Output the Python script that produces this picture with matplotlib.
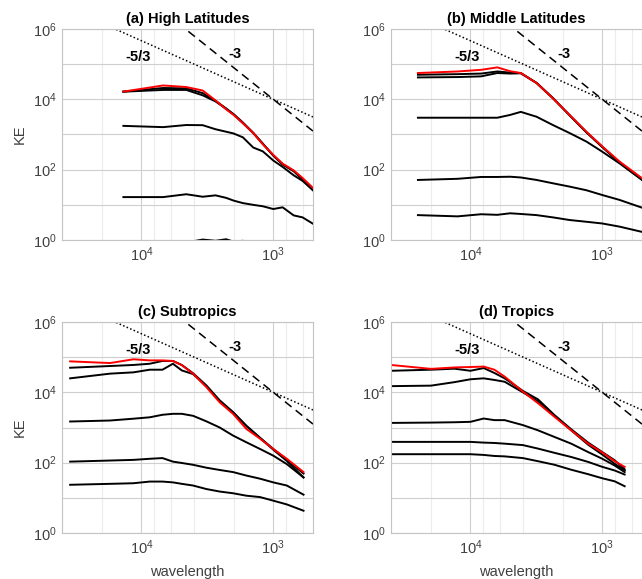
import numpy as np
import matplotlib.pyplot as plt
from matplotlib.ticker import FixedLocator, NullFormatter, LogLocator

plt.rcParams['font.family'] = ['Liberation Sans', 'DejaVu Sans']

titles = ['(a) High Latitudes', '(b) Middle Latitudes', '(c) Subtropics', '(d) Tropics']

# (a) high latitudes
wl_a = [13700, 6850, 4570, 3430, 2740, 2280, 2000, 1700, 1420, 1200, 1000, 850, 700, 600, 500]
red_a = [1.66e4, 2.48e4, 2.24e4, 1.78e4, 9.3e3, 5.2e3, 3.6e3, 2.1e3, 1.1e3, 525, 263, 148, 95, 58, 30]
blk_a = [
    [1.66e4, 2.1e4, 2.05e4, 1.5e4, 9.1e3, 5.5e3, 3.8e3, 2.2e3, 1.12e3, 550, 250, 140, 90, 52, 26],
    [1.65e4, 1.85e4, 1.85e4, 1.3e4, 8.7e3, 5.4e3, 3.7e3, 2.1e3, 1.1e3, 540, 255, 145, 92, 55, 29],
    [1.76e3, 1.62e3, 1.86e3, 1.84e3, 1.41e3, 1.2e3, 1.07e3, 830, 427, 331, 182, 120, 69, 48, 26],
    [16.6, 16.6, 20, 17, 18.6, 15.8, 13.2, 11.2, 10, 9.1, 7.6, 8.5, 5.0, 4.4, 2.9],
    [0.5, 0.6, 0.85, 1.03, 0.95, 1.05, 0.9, 0.95, 0.8, 0.65, 0.55, 0.5, 0.4, 0.3, 0.2],
]

# (b) middle latitudes
wl_b = [25000, 12500, 8300, 6250, 5000, 4150, 3150, 2370, 1770, 1320, 1000, 740, 500]
red_b = [5.6e4, 6.2e4, 6.9e4, 8.1e4, 6.3e4, 5.6e4, 2.9e4, 1.07e4, 3.6e3, 1.2e3, 457, 170, 57]
blk_b = [
    [5.0e4, 5.2e4, 5.4e4, 6.2e4, 5.75e4, 5.6e4, 2.95e4, 1.1e4, 3.5e3, 1.15e3, 437, 158, 52],
    [4.2e4, 4.3e4, 4.5e4, 5.6e4, 5.4e4, 5.5e4, 2.9e4, 1.07e4, 3.55e3, 1.17e3, 447, 162, 55],
    [3.0e3, 3.0e3, 3.0e3, 3.0e3, 3.6e3, 4.4e3, 3.2e3, 1.86e3, 1.1e3, 630, 324, 151, 51],
    [51, 55, 62, 62, 63, 60, 51, 41, 33, 26, 19, 13.8, 8.3],
    [5.1, 4.7, 5.4, 5.2, 5.75, 5.5, 5.1, 4.4, 3.7, 3.3, 2.95, 2.4, 1.7],
]

# (c) subtropics
wl_c = [34700, 17300, 11500, 8650, 6920, 5770, 4940, 4060, 3220, 2550, 2020, 1600, 1260, 1000, 790, 590]
red_c = [7.6e4, 6.8e4, 8.7e4, 8.1e4, 8.1e4, 7.8e4, 5.9e4, 3.4e4, 1.41e4, 5.2e3, 2.45e3, 910, 480, 245, 129, 54]
blk_c = [
    [5.0e4, 5.6e4, 6.0e4, 6.5e4, 7.8e4, 7.8e4, 6.0e4, 3.5e4, 1.58e4, 5.9e3, 2.75e3, 1.12e3, 513, 245, 120, 49],
    [2.5e4, 3.4e4, 3.7e4, 4.4e4, 4.4e4, 6.5e4, 4.2e4, 3.3e4, 1.5e4, 5.75e3, 2.7e3, 1.1e3, 500, 234, 112, 38],
    [1.48e3, 1.58e3, 1.78e3, 1.95e3, 2.3e3, 2.45e3, 2.45e3, 2.15e3, 1.5e3, 1.0e3, 590, 380, 245, 158, 91, 38],
    [107, 115, 120, 129, 135, 107, 98, 87, 72, 62, 54, 43, 35, 27.5, 22.4, 12.3],
    [23.5, 25, 26, 29, 29, 27.5, 25, 22.4, 17.8, 15.1, 13.5, 11.5, 10.5, 8.3, 6.5, 4.3],
]

# (d) tropics
wl_d = [40000, 19900, 13200, 10000, 7930, 6580, 5500, 4000, 3070, 2300, 1720, 1280, 1000, 806, 677]
red_d = [6.0e4, 4.65e4, 5.1e4, 5.25e4, 5.4e4, 4.4e4, 2.8e4, 1.05e4, 4.9e3, 2.0e3, 830, 347, 195, 110, 76]
blk_d = [
    [4.1e4, 4.4e4, 4.7e4, 4.1e4, 4.9e4, 3.55e4, 2.5e4, 1.1e4, 6.3e3, 2.24e3, 890, 372, 200, 117, 65],
    [1.5e4, 1.55e4, 1.95e4, 2.35e4, 2.5e4, 2.25e4, 2.0e4, 1.0e4, 5.5e3, 2.15e3, 830, 324, 170, 93, 60],
    [1.35e3, 1.38e3, 1.41e3, 1.45e3, 1.8e3, 1.62e3, 1.62e3, 1.17e3, 830, 537, 347, 200, 129, 83, 54],
    [390, 390, 390, 390, 372, 363, 347, 316, 251, 190, 145, 105, 76, 60, 46],
    [174, 174, 174, 174, 166, 155, 151, 135, 110, 87, 63, 47, 36, 29.5, 21.4],
]

panels = [(wl_a, red_a, blk_a), (wl_b, red_b, blk_b), (wl_c, red_c, blk_c), (wl_d, red_d, blk_d)]

# reference slopes, both pass through (1000, 1e4)
ref_wl = np.array([500.0, 40000.0])
ref_53 = 1e4 * (ref_wl / 1000) ** (5 / 3)
ref_3 = 1e4 * (ref_wl / 1000) ** 3

W, H = 642, 579
fig = plt.figure(figsize=(W / 100, H / 100), dpi=100)
boxes = [(62, 29), (391, 29), (62, 322), (391, 322)]
aw, ah = 251, 211

for i, (wl, red, blk) in enumerate(panels):
    x0, y0 = boxes[i]
    ax = fig.add_axes([x0 / W, 1 - (y0 + ah) / H, aw / W, ah / H])
    ax.set_xscale('log')
    ax.set_yscale('log')

    for k in blk:
        ax.plot(wl, k, color='black', lw=1.4)
    ax.plot(wl, red, color='red', lw=1.4)

    ax.plot(ref_wl, ref_53, color='black', lw=1.1, ls=(0, (1, 1.5)))
    ax.plot(ref_wl, ref_3, color='black', lw=1.1, ls=(0, (5.5, 3.5)))
    ax.text(1.06e4, 1.65e5, '-5/3', fontsize=10.5, fontweight='bold', ha='center', va='center')
    ax.text(1950, 1.95e5, '-3', fontsize=10.5, fontweight='bold', ha='center', va='center')

    ax.set_xlim(40000, 500)
    ax.set_ylim(1, 1e6)

    ax.xaxis.set_major_locator(FixedLocator([1e3, 1e4]))
    ax.xaxis.set_minor_locator(LogLocator(base=10, subs=[2, 4, 6, 8]))
    ax.xaxis.set_minor_formatter(NullFormatter())
    ax.yaxis.set_major_locator(FixedLocator([1, 1e2, 1e4, 1e6]))
    ax.yaxis.set_minor_locator(FixedLocator([10, 1e3, 1e5]))
    ax.yaxis.set_minor_formatter(NullFormatter())

    ax.grid(True, which='major', color='#cfcfcf', lw=0.8)
    ax.grid(True, which='minor', axis='x', color='#ececec', lw=0.8)
    ax.grid(True, which='minor', axis='y', color='#cfcfcf', lw=0.8)
    ax.set_axisbelow(True)

    for s in ax.spines.values():
        s.set_color('#c4c4c4')
        s.set_linewidth(0.8)
    ax.tick_params(which='both', length=0, labelsize=10.5, labelcolor='#404040', pad=4)

    ax.set_title(titles[i], fontsize=10.5, fontweight='bold', pad=4)
    if i % 2 == 0:
        ax.set_ylabel('KE', fontsize=10.5, color='#404040', labelpad=4)
    if i >= 2:
        ax.set_xlabel('wavelength', fontsize=10.5, color='#404040', labelpad=6)

fig.savefig('out.png', dpi=100)
